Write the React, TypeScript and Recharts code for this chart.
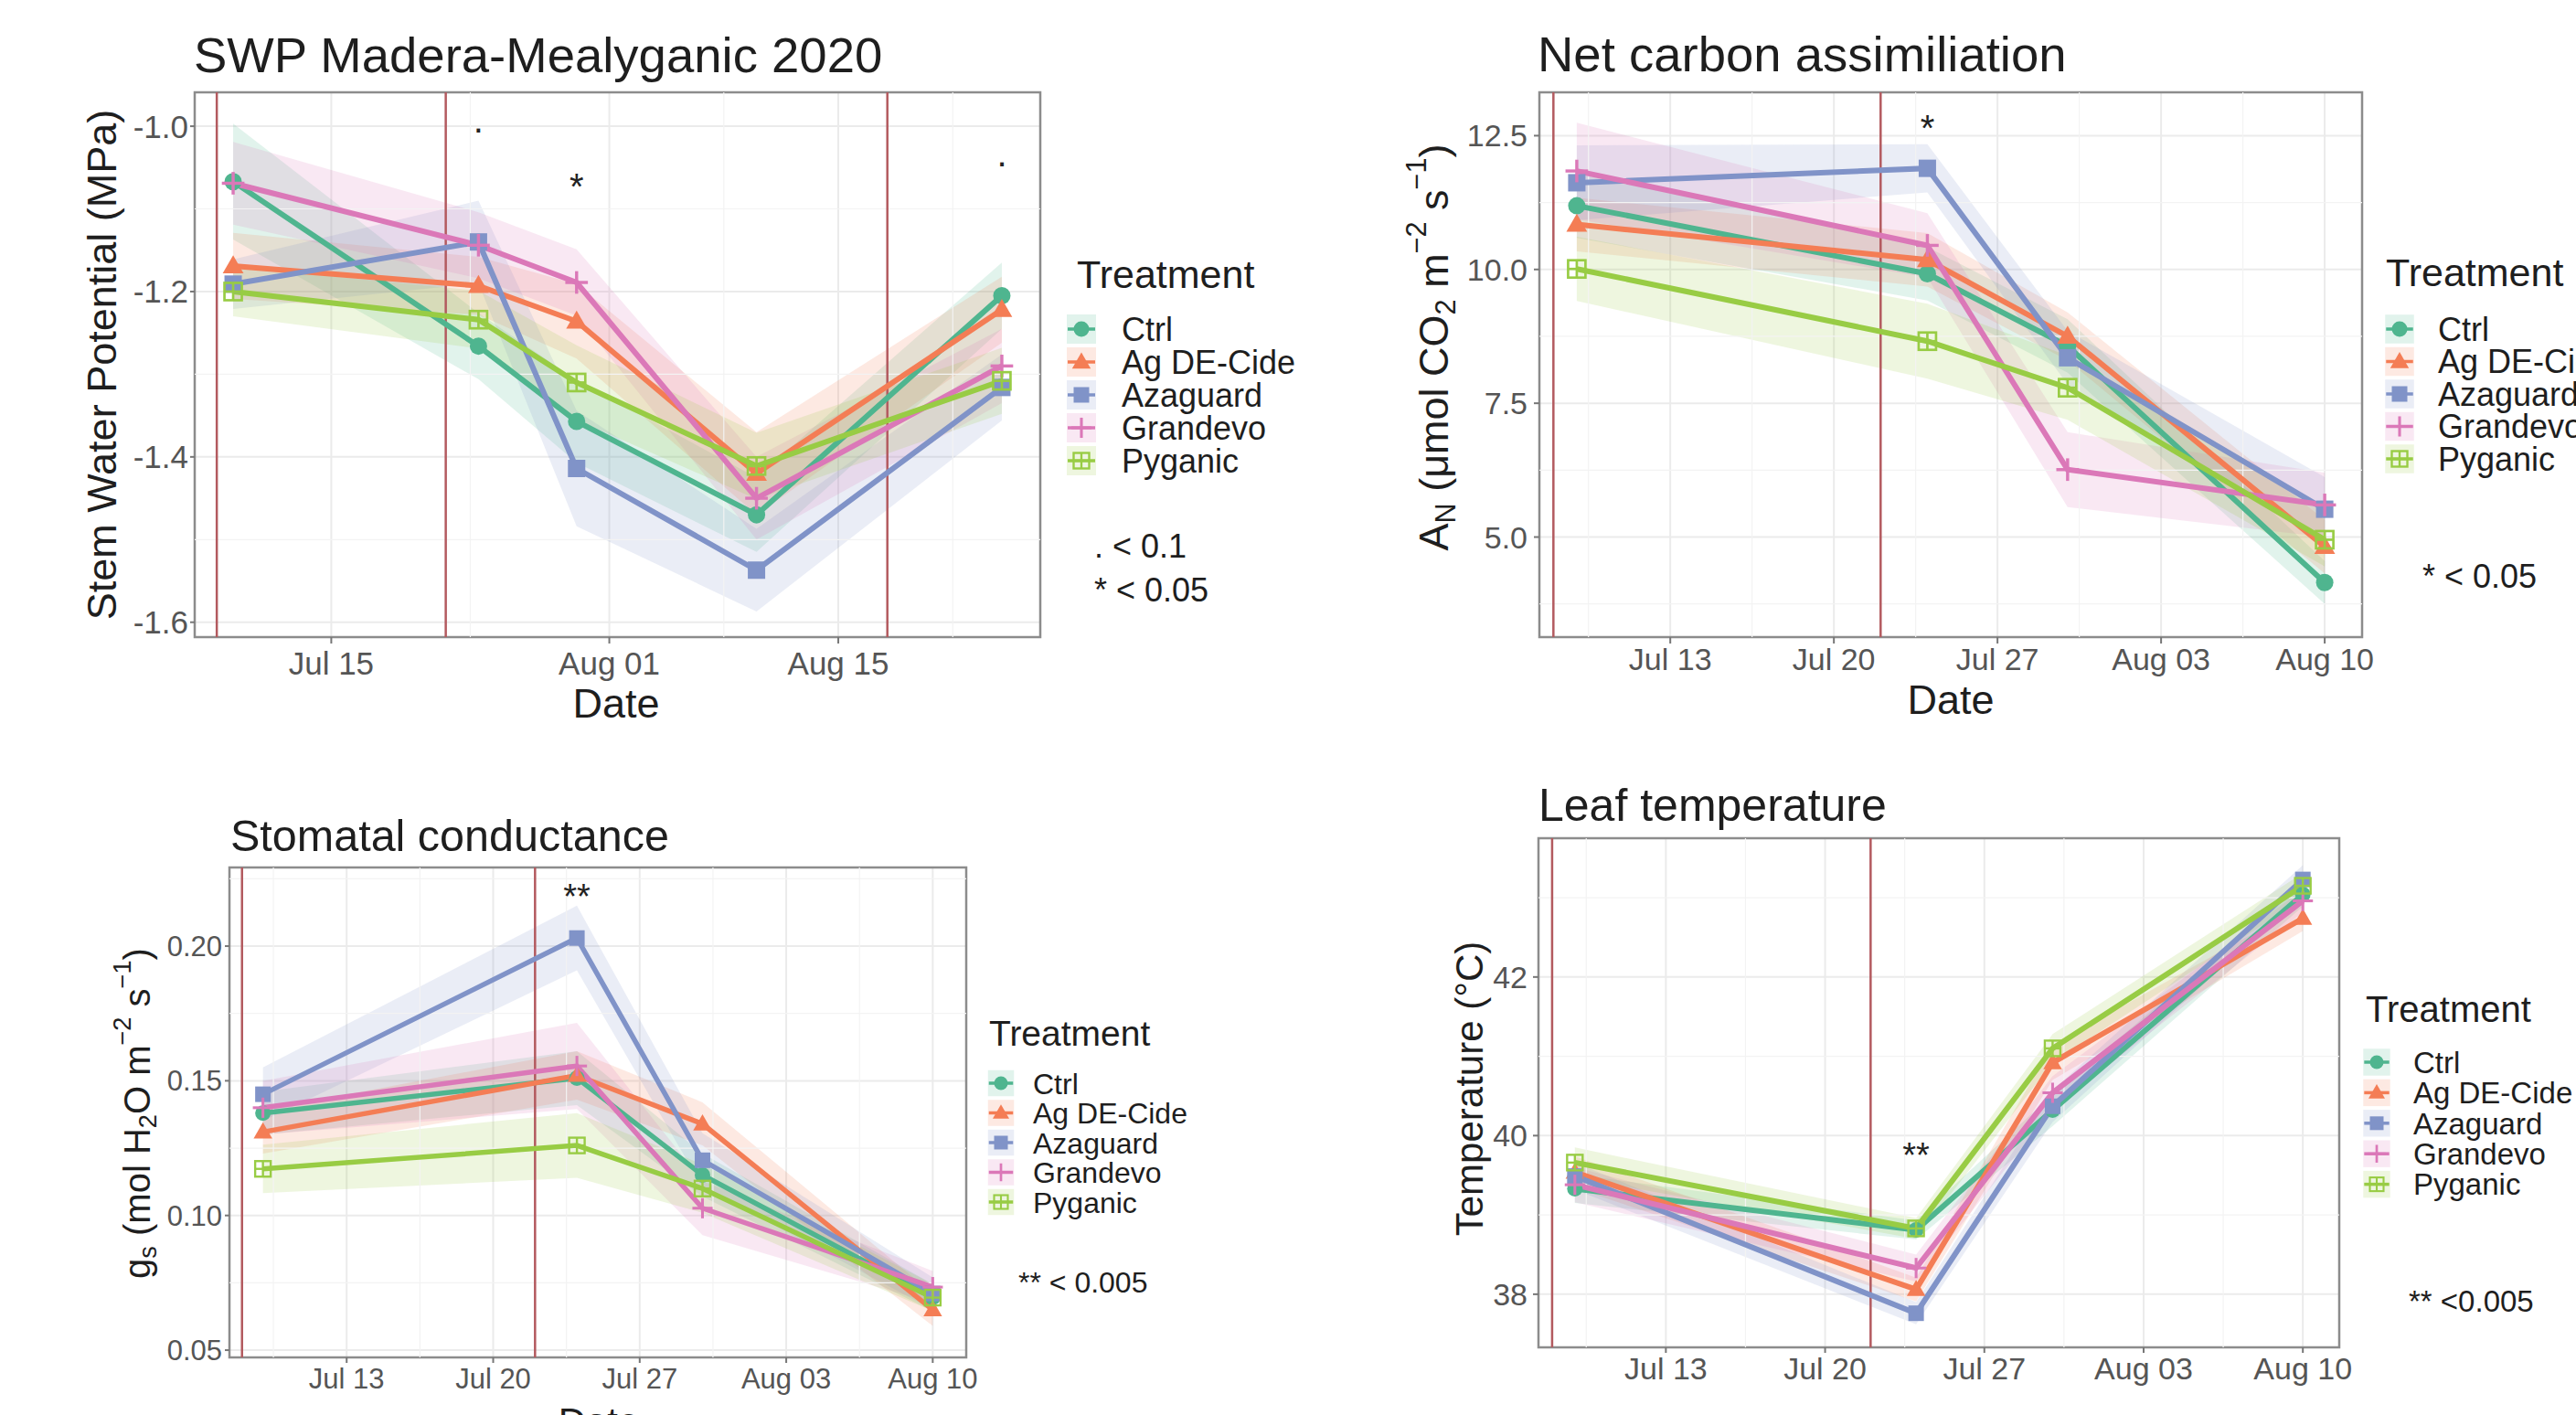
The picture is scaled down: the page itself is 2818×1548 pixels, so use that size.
import React from 'react';
import {
  ComposedChart, Line, Area, XAxis, YAxis, CartesianGrid,
  ReferenceLine, ReferenceArea, ReferenceDot,
} from 'recharts';

// ---------------- shared ----------------
const TREATMENTS = ['Ctrl', 'Ag DE-Cide', 'Azaguard', 'Grandevo', 'Pyganic'];
const COLORS = ['#4FB58F', '#F47D55', '#8093C8', '#DB78B8', '#98CC44'];
const SHAPES = ['circle', 'triangle', 'square', 'plus', 'boxplus'];

// ---------------- Panel 1: SWP ----------------
const swpDates = ['2020-07-09', '2020-07-24', '2020-07-30', '2020-08-10', '2020-08-25'];
const swpCtrl = [-1.067, -1.266, -1.357, -1.470, -1.205];
const swpAg = [-1.169, -1.193, -1.236, -1.420, -1.222];
const swpAza = [-1.191, -1.140, -1.414, -1.537, -1.316];
const swpGran = [-1.069, -1.144, -1.189, -1.450, -1.290];
const swpPyg = [-1.200, -1.234, -1.310, -1.411, -1.308];
const swpCtrlSe = [0.07, 0.04, 0.05, 0.045, 0.04];
const swpAgSe = [0.04, 0.035, 0.045, 0.05, 0.04];
const swpAzaSe = [0.03, 0.05, 0.07, 0.05, 0.04];
const swpGranSe = [0.05, 0.04, 0.04, 0.05, 0.045];
const swpPygSe = [0.03, 0.035, 0.045, 0.04, 0.04];
const swpTickDates = ['2020-07-15', '2020-08-01', '2020-08-15'];
const swpTickLabels = ['Jul 15', 'Aug 01', 'Aug 15'];
const swpYTicks = [-1.6, -1.4, -1.2, -1.0];
const swpYTickLabels = ['-1.6', '-1.4', '-1.2', '-1.0'];
const swpSprays = ['2020-07-08', '2020-07-22', '2020-08-18'];
const swpAnnDates = ['2020-07-24', '2020-07-30', '2020-08-25'];
const swpAnnValues = [-1.005, -1.063, -1.046];
const swpAnnLabels = ['.', '*', '.'];
const swpNotes = ['. < 0.1', '* < 0.05'];

// ---------------- Panel 2: A_N ----------------
const gasDates = ['2020-07-09', '2020-07-24', '2020-07-30', '2020-08-10'];
const anCtrl = [11.19, 9.92, 8.57, 4.15];
const anAg = [10.84, 10.18, 8.75, 4.82];
const anAza = [11.62, 11.89, 8.35, 5.52];
const anGran = [11.84, 10.45, 6.26, 5.60];
const anPyg = [10.01, 8.66, 7.79, 4.95];
const anCtrlSe = [0.6, 0.5, 0.5, 0.4];
const anAgSe = [0.5, 0.5, 0.45, 0.5];
const anAzaSe = [0.7, 0.45, 0.5, 0.6];
const anGranSe = [0.9, 0.6, 0.7, 0.6];
const anPygSe = [0.6, 0.7, 0.6, 0.5];
const gasTickDates = ['2020-07-13', '2020-07-20', '2020-07-27', '2020-08-03', '2020-08-10'];
const gasTickLabels = ['Jul 13', 'Jul 20', 'Jul 27', 'Aug 03', 'Aug 10'];
const gasSprays = ['2020-07-08', '2020-07-22'];
const anYTicks = [5, 7.5, 10, 12.5];
const anYTickLabels = ['5.0', '7.5', '10.0', '12.5'];
const anAnnDates = ['2020-07-24'];
const anAnnValues = [12.8];
const anAnnLabels = ['*'];
const anNotes = ['* < 0.05'];

// ---------------- Panel 3: g_s ----------------
const gsCtrl = [0.138, 0.151, 0.115, 0.0695];
const gsAg = [0.131, 0.152, 0.134, 0.065];
const gsAza = [0.145, 0.203, 0.1205, 0.071];
const gsGran = [0.140, 0.1555, 0.1027, 0.0734];
const gsPyg = [0.1173, 0.126, 0.110, 0.0695];
const gsCtrlSe = [0.008, 0.01, 0.008, 0.005];
const gsAgSe = [0.008, 0.009, 0.008, 0.006];
const gsAzaSe = [0.01, 0.012, 0.01, 0.006];
const gsGranSe = [0.01, 0.016, 0.01, 0.006];
const gsPygSe = [0.009, 0.012, 0.009, 0.005];
const gsYTicks = [0.05, 0.10, 0.15, 0.20];
const gsYTickLabels = ['0.05', '0.10', '0.15', '0.20'];
const gsAnnDates = ['2020-07-24'];
const gsAnnValues = [0.2214];
const gsAnnLabels = ['**'];
const gsNotes = ['** < 0.005'];

// ---------------- Panel 4: leaf temperature ----------------
const ltCtrl = [39.33, 38.81, 40.32, 43.04];
const ltAg = [39.54, 38.06, 40.92, 42.74];
const ltAza = [39.49, 37.76, 40.37, 43.23];
const ltGran = [39.38, 38.33, 40.54, 42.96];
const ltPyg = [39.66, 38.83, 41.10, 43.15];
const ltCtrlSe = [0.18, 0.12, 0.2, 0.15];
const ltAgSe = [0.2, 0.15, 0.22, 0.16];
const ltAzaSe = [0.17, 0.14, 0.2, 0.18];
const ltGranSe = [0.22, 0.17, 0.21, 0.15];
const ltPygSe = [0.19, 0.13, 0.18, 0.16];
const ltYTicks = [38, 40, 42];
const ltYTickLabels = ['38', '40', '42'];
const ltAnnDates = ['2020-07-24'];
const ltAnnValues = [39.86];
const ltAnnLabels = ['**'];
const ltNotes = ['** <0.005'];

// ---------------- helpers ----------------
const toDay = (s: string) => {
  const [y, m, d] = s.split('-').map(Number);
  return (Date.UTC(y, m - 1, d) - Date.UTC(2020, 6, 0)) / 86400000;
};

const FONT = '"Liberation Sans", Arial, Helvetica, sans-serif';

function Marker({ shape, cx, cy, color, s }: any) {
  if (cx == null || cy == null) return null;
  switch (shape) {
    case 'circle':
      return <circle cx={cx} cy={cy} r={s / 2} fill={color} />;
    case 'triangle':
      return (
        <polygon
          points={`${cx},${cy - 0.62 * s} ${cx - 0.6 * s},${cy + 0.42 * s} ${cx + 0.6 * s},${cy + 0.42 * s}`}
          fill={color}
        />
      );
    case 'square':
      return <rect x={cx - s / 2} y={cy - s / 2} width={s} height={s} fill={color} />;
    case 'plus':
      return (
        <g stroke={color} strokeWidth={s * 0.18}>
          <line x1={cx - 0.65 * s} y1={cy} x2={cx + 0.65 * s} y2={cy} />
          <line x1={cx} y1={cy - 0.65 * s} x2={cx} y2={cy + 0.65 * s} />
        </g>
      );
    default:
      return (
        <g stroke={color} strokeWidth={s * 0.14} fill="none">
          <rect x={cx - s / 2} y={cy - s / 2} width={s} height={s} />
          <line x1={cx - s / 2} y1={cy} x2={cx + s / 2} y2={cy} />
          <line x1={cx} y1={cy - s / 2} x2={cx} y2={cy + s / 2} />
        </g>
      );
  }
}

type Box = { left: number; top: number; right: number; bottom: number };

type PanelCfg = {
  id: string;
  box: Box;
  dates: string[];
  values: number[][];
  se: number[][];
  tickDates: string[];
  tickLabels: string[];
  yTicks: number[];
  yTickLabels: string[];
  yDomain: [number, number];
  sprays: string[];
  annDates: string[];
  annValues: number[];
  annLabels: string[];
  tickFont: number;
  xTickSize: number;
  xTickMargin: number;
  yTickSize: number;
  yTickMargin: number;
  markerSize: number;
  lineWidth: number;
  annFont: number;
};

// ggplot-like minor breaks (midpoints between majors, extended one step outside)
function minorBreaks(major: number[], domain: [number, number]) {
  if (major.length < 2) return [];
  const b = [...major];
  const d0 = b[1] - b[0];
  const dn = b[b.length - 1] - b[b.length - 2];
  b.unshift(b[0] - d0);
  b.push(b[b.length - 1] + dn);
  const out: number[] = [];
  for (let i = 0; i < b.length - 1; i++) {
    const m = (b[i] + b[i + 1]) / 2;
    if (m > domain[0] && m < domain[1]) out.push(m);
  }
  return out;
}

function Panel({ cfg }: { cfg: PanelCfg }) {
  const { box } = cfg;
  const yw = 150;
  const xh = 70;
  const mt = 10;
  const mr = 70;
  const width = box.right - box.left + yw + mr;
  const height = box.bottom - box.top + mt + xh;
  const xs = cfg.dates.map(toDay);
  const span = xs[xs.length - 1] - xs[0];
  const xDomain: [number, number] = [xs[0] - 0.05 * span, xs[xs.length - 1] + 0.05 * span];
  const rows = xs.map((t, i) => {
    const r: any = { t };
    TREATMENTS.forEach((name, k) => {
      const v = cfg.values[k][i];
      const e = cfg.se[k][i];
      r[name] = v;
      r[name + '_r'] = [v - e, v + e];
    });
    return r;
  });
  const xTicks = cfg.tickDates.map(toDay);
  const minorX = minorBreaks(xTicks, xDomain);
  const minorY = minorBreaks(cfg.yTicks, cfg.yDomain);
  const xLabel = (v: number) => {
    const i = xTicks.findIndex((t) => Math.abs(t - v) < 1e-6);
    return i >= 0 ? cfg.tickLabels[i] : '';
  };
  const yLabel = (v: number) => {
    const i = cfg.yTicks.findIndex((t) => Math.abs(t - v) < 1e-9);
    return i >= 0 ? cfg.yTickLabels[i] : '';
  };
  const tickStyle = { fill: '#555555', fontSize: cfg.tickFont, fontFamily: FONT };

  return (
    <div style={{ position: 'absolute', left: box.left - yw, top: box.top - mt }}>
      <ComposedChart
        width={width}
        height={height}
        data={rows}
        margin={{ top: mt, right: mr, bottom: 0, left: 0 }}
      >
        <CartesianGrid stroke="#EBEBEB" strokeWidth={2} />
        {minorX.map((v) => (
          <ReferenceLine key={`mx${v}`} x={v} stroke="#F3F3F3" strokeWidth={1.2} />
        ))}
        {minorY.map((v) => (
          <ReferenceLine key={`my${v}`} y={v} stroke="#F3F3F3" strokeWidth={1.2} />
        ))}
        <XAxis
          type="number"
          dataKey="t"
          domain={xDomain}
          allowDataOverflow
          ticks={xTicks}
          interval={0}
          tickFormatter={xLabel}
          axisLine={false}
          tickSize={cfg.xTickSize}
          tickMargin={cfg.xTickMargin}
          tick={tickStyle}
          tickLine={{ stroke: '#777777', strokeWidth: 2 }}
          height={xh}
        />
        <YAxis
          type="number"
          domain={cfg.yDomain}
          allowDataOverflow
          ticks={cfg.yTicks}
          interval={0}
          tickFormatter={yLabel}
          axisLine={false}
          tickSize={cfg.yTickSize}
          tickMargin={cfg.yTickMargin}
          tick={tickStyle}
          tickLine={{ stroke: '#777777', strokeWidth: 2 }}
          width={yw}
        />
        {TREATMENTS.map((name, k) => (
          <Area
            key={`area-${name}`}
            dataKey={name + '_r'}
            type="linear"
            stroke="none"
            fill={COLORS[k]}
            fillOpacity={0.17}
            isAnimationActive={false}
            dot={false}
            activeDot={false}
          />
        ))}
        {cfg.sprays.map((d) => (
          <ReferenceLine key={`spray${d}`} x={toDay(d)} stroke="#B35A5F" strokeWidth={2.5} />
        ))}
        {TREATMENTS.map((name, k) => (
          <Line
            key={`line-${name}`}
            dataKey={name}
            type="linear"
            stroke={COLORS[k]}
            strokeWidth={cfg.lineWidth}
            isAnimationActive={false}
            activeDot={false}
            dot={(p: any) => (
              <Marker
                key={`${cfg.id}-${name}-${p.index}`}
                shape={SHAPES[k]}
                cx={p.cx}
                cy={p.cy}
                color={COLORS[k]}
                s={cfg.markerSize}
              />
            )}
          />
        ))}
        {cfg.annDates.map((d, i) => (
          <ReferenceDot
            key={`ann${i}`}
            x={toDay(d)}
            y={cfg.annValues[i]}
            r={0}
            ifOverflow="visible"
            shape={(p: any) => {
              const lab = cfg.annLabels[i];
              const fs = cfg.annFont;
              const off = lab === '.' ? 0.05 * fs : 0.58 * fs;
              return (
                <text
                  x={p.cx}
                  y={p.cy + off}
                  textAnchor="middle"
                  fontSize={fs}
                  fontFamily={FONT}
                  fill="#222222"
                >
                  {lab}
                </text>
              );
            }}
          />
        ))}
        <ReferenceArea
          x1={xDomain[0]}
          x2={xDomain[1]}
          y1={cfg.yDomain[0]}
          y2={cfg.yDomain[1]}
          fill="none"
          fillOpacity={0}
          stroke="#8C8C8C"
          strokeWidth={2.5}
          ifOverflow="visible"
        />
      </ComposedChart>
    </div>
  );
}

const panels: PanelCfg[] = [
  {
    id: 'swp',
    box: { left: 213, top: 101, right: 1138, bottom: 697 },
    dates: swpDates,
    values: [swpCtrl, swpAg, swpAza, swpGran, swpPyg],
    se: [swpCtrlSe, swpAgSe, swpAzaSe, swpGranSe, swpPygSe],
    tickDates: swpTickDates,
    tickLabels: swpTickLabels,
    yTicks: swpYTicks,
    yTickLabels: swpYTickLabels,
    yDomain: [-1.618, -0.959],
    sprays: swpSprays,
    annDates: swpAnnDates,
    annValues: swpAnnValues,
    annLabels: swpAnnLabels,
    tickFont: 35,
    xTickSize: 7,
    xTickMargin: 9,
    yTickSize: 5,
    yTickMargin: 2,
    markerSize: 19,
    lineWidth: 6,
    annFont: 40,
  },
  {
    id: 'an',
    box: { left: 1684, top: 101, right: 2584, bottom: 697 },
    dates: gasDates,
    values: [anCtrl, anAg, anAza, anGran, anPyg],
    se: [anCtrlSe, anAgSe, anAzaSe, anGranSe, anPygSe],
    tickDates: gasTickDates,
    tickLabels: gasTickLabels,
    yTicks: anYTicks,
    yTickLabels: anYTickLabels,
    yDomain: [3.13, 13.31],
    sprays: gasSprays,
    annDates: anAnnDates,
    annValues: anAnnValues,
    annLabels: anAnnLabels,
    tickFont: 34,
    xTickSize: 7,
    xTickMargin: 5,
    yTickSize: 6,
    yTickMargin: 7,
    markerSize: 19,
    lineWidth: 6,
    annFont: 40,
  },
  {
    id: 'gs',
    box: { left: 251, top: 949, right: 1057, bottom: 1485 },
    dates: gasDates,
    values: [gsCtrl, gsAg, gsAza, gsGran, gsPyg],
    se: [gsCtrlSe, gsAgSe, gsAzaSe, gsGranSe, gsPygSe],
    tickDates: gasTickDates,
    tickLabels: gasTickLabels,
    yTicks: gsYTicks,
    yTickLabels: gsYTickLabels,
    yDomain: [0.0473, 0.2292],
    sprays: gasSprays,
    annDates: gsAnnDates,
    annValues: gsAnnValues,
    annLabels: gsAnnLabels,
    tickFont: 31,
    xTickSize: 6,
    xTickMargin: 6,
    yTickSize: 5,
    yTickMargin: 3,
    markerSize: 17,
    lineWidth: 5.5,
    annFont: 38,
  },
  {
    id: 'lt',
    box: { left: 1683, top: 917, right: 2559, bottom: 1474 },
    dates: gasDates,
    values: [ltCtrl, ltAg, ltAza, ltGran, ltPyg],
    se: [ltCtrlSe, ltAgSe, ltAzaSe, ltGranSe, ltPygSe],
    tickDates: gasTickDates,
    tickLabels: gasTickLabels,
    yTicks: ltYTicks,
    yTickLabels: ltYTickLabels,
    yDomain: [37.33, 43.75],
    sprays: gasSprays,
    annDates: ltAnnDates,
    annValues: ltAnnValues,
    annLabels: ltAnnLabels,
    tickFont: 34,
    xTickSize: 6,
    xTickMargin: 5,
    yTickSize: 6,
    yTickMargin: 6,
    markerSize: 17,
    lineWidth: 6,
    annFont: 38,
  },
];

// ---------------- overlay texts ----------------
type Seg = { t: string; sub?: boolean; sup?: boolean };

function Rich({ segs, fs }: { segs: Seg[]; fs: number }) {
  let cur = 0;
  return (
    <>
      {segs.map((s, i) => {
        const target = s.sub ? 0.28 * fs : s.sup ? -0.42 * fs : 0;
        const dy = target - cur;
        cur = target;
        return (
          <tspan key={i} dy={dy} fontSize={s.sub || s.sup ? fs * 0.68 : fs} style={{ whiteSpace: 'pre' }}>
            {s.t}
          </tspan>
        );
      })}
    </>
  );
}

const titles = [
  { text: 'SWP Madera-Mealyganic 2020', x: 212, y: 79, fs: 54.5 },
  { text: 'Net carbon assimiliation', x: 1682, y: 78, fs: 54.5 },
  { text: 'Stomatal conductance', x: 252, y: 931, fs: 48.5 },
  { text: 'Leaf temperature', x: 1683, y: 898, fs: 50 },
];

const yTitles: { segs: Seg[]; x: number; y: number; fs: number }[] = [
  { segs: [{ t: 'Stem Water Potential (MPa)' }], x: 111, y: 399, fs: 45 },
  {
    segs: [
      { t: 'A' }, { t: 'N', sub: true }, { t: ' (μmol CO' }, { t: '2', sub: true },
      { t: ' m' }, { t: '−2', sup: true }, { t: ' s' }, { t: '−1', sup: true }, { t: ')' },
    ],
    x: 1568, y: 380, fs: 45,
  },
  {
    segs: [
      { t: 'g' }, { t: 's', sub: true }, { t: ' (mol H' }, { t: '2', sub: true },
      { t: 'O m' }, { t: '−2', sup: true }, { t: ' s' }, { t: '−1', sup: true }, { t: ')' },
    ],
    x: 150, y: 1218, fs: 40,
  },
  { segs: [{ t: 'Temperature (°C)' }], x: 1607, y: 1191, fs: 42 },
];

const xTitles = [
  { text: 'Date', x: 674, y: 785, fs: 45 },
  { text: 'Date', x: 2134, y: 781, fs: 45 },
  { text: 'Date', x: 655, y: 1570, fs: 42 },
];

const legends = [
  { tx: 1178, tb: 315, tfs: 43, symX: 1183, textX: 1227, y0: 360, step: 36, fs: 36, ms: 17, notes: swpNotes, nx: 1197, ny: [597, 645] },
  { tx: 2610, tb: 313, tfs: 43, symX: 2625, textX: 2667, y0: 360, step: 35.5, fs: 36, ms: 17, notes: anNotes, nx: 2650, ny: [630] },
  { tx: 1082, tb: 1144, tfs: 39, symX: 1095, textX: 1130, y0: 1185, step: 32.5, fs: 32, ms: 15, notes: gsNotes, nx: 1114, ny: [1402] },
  { tx: 2588, tb: 1118, tfs: 40, symX: 2600, textX: 2640, y0: 1162, step: 33.4, fs: 33, ms: 15, notes: ltNotes, nx: 2635, ny: [1423] },
];

function Overlay() {
  return (
    <svg
      width={2818}
      height={1548}
      style={{ position: 'absolute', left: 0, top: 0, pointerEvents: 'none' }}
      fontFamily={FONT}
    >
      {titles.map((t, i) => (
        <text key={`t${i}`} x={t.x} y={t.y} fontSize={t.fs} fill="#1E1E1E">
          {t.text}
        </text>
      ))}
      {yTitles.map((t, i) => (
        <text
          key={`yt${i}`}
          transform={`translate(${t.x},${t.y}) rotate(-90)`}
          textAnchor="middle"
          dominantBaseline="central"
          fontSize={t.fs}
          fill="#1E1E1E"
        >
          <Rich segs={t.segs} fs={t.fs} />
        </text>
      ))}
      {xTitles.map((t, i) => (
        <text key={`xt${i}`} x={t.x} y={t.y} textAnchor="middle" fontSize={t.fs} fill="#1E1E1E">
          {t.text}
        </text>
      ))}
      {legends.map((lg, li) => (
        <g key={`lg${li}`}>
          <text x={lg.tx} y={lg.tb} fontSize={lg.tfs} fill="#1E1E1E">
            Treatment
          </text>
          {TREATMENTS.map((name, k) => {
            const cy = lg.y0 + k * lg.step;
            return (
              <g key={`li${k}`}>
                <rect
                  x={lg.symX - lg.step / 2 + 2}
                  y={cy - lg.step / 2 + 2}
                  width={lg.step - 4}
                  height={lg.step - 4}
                  fill={COLORS[k]}
                  fillOpacity={0.17}
                />
                <line
                  x1={lg.symX - lg.step / 2 + 3}
                  x2={lg.symX + lg.step / 2 - 3}
                  y1={cy}
                  y2={cy}
                  stroke={COLORS[k]}
                  strokeWidth={3.5}
                />
                <Marker shape={SHAPES[k]} cx={lg.symX} cy={cy} color={COLORS[k]} s={lg.ms} />
                <text x={lg.textX} y={cy + 0.36 * lg.fs} fontSize={lg.fs} fill="#1E1E1E">
                  {name}
                </text>
              </g>
            );
          })}
          {lg.notes.map((n, ni) => (
            <text
              key={`n${ni}`}
              x={lg.nx}
              y={lg.ny[ni] + 0.36 * lg.fs}
              fontSize={lg.fs}
              fill="#1E1E1E"
              style={{ whiteSpace: 'pre' }}
            >
              {n}
            </text>
          ))}
        </g>
      ))}
    </svg>
  );
}

export default function App() {
  return (
    <div
      style={{
        position: 'absolute',
        left: 0,
        top: 0,
        width: 2818,
        height: 1548,
        overflow: 'hidden',
        background: '#FFFFFF',
        fontFamily: FONT,
      }}
    >
      {panels.map((p) => (
        <Panel key={p.id} cfg={p} />
      ))}
      <Overlay />
    </div>
  );
}
